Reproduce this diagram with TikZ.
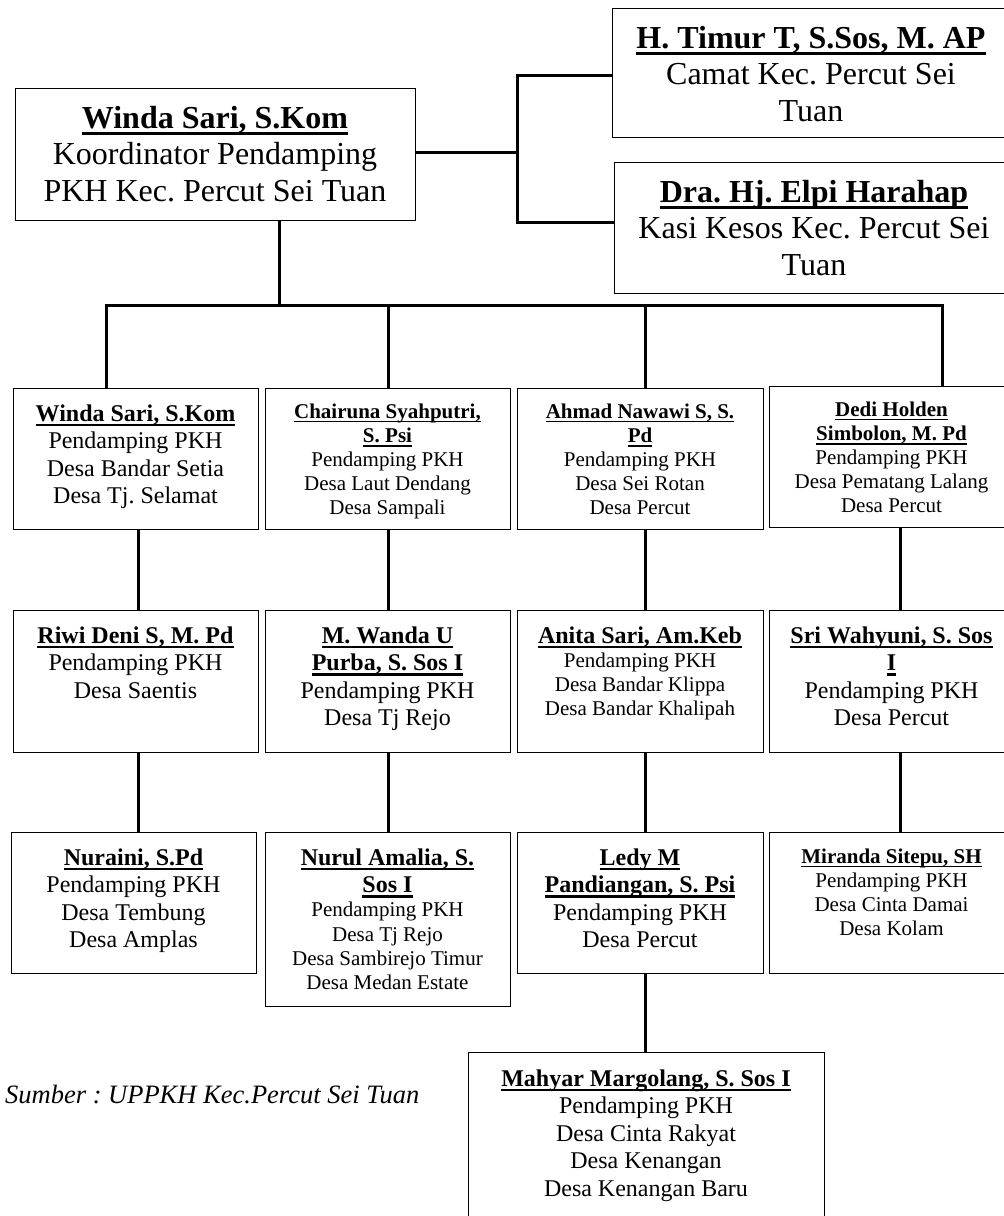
\documentclass[tikz,border=0pt]{standalone}
\usepackage{fontspec}
\setmainfont{Liberation Serif}
\frenchspacing
\newcommand\fA{\fontsize{32}{36.8}\selectfont}
\newcommand\fB{\fontsize{24}{27.6}\selectfont}
\newcommand\fC{\fontsize{21}{24.2}\selectfont}
\newcommand\ttl[1]{\leavevmode\setbox0\hbox{\bfseries #1}\rlap{\rule[-0.21em]{\wd0}{0.09em}}\box0}
\newcommand\tbox[2]{\parbox[t]{#1}{\centering\frenchspacing #2}}
\begin{document}
\begin{tikzpicture}[x=1pt,y=-1pt,
  bx/.style={draw, line width=1.4pt, inner sep=0pt, anchor=north west},
  txt/.style={inner sep=0pt, anchor=base},
  conn/.style={line width=3pt, line join=miter}]
\useasboundingbox (0,0) rectangle (1004,1216);
\clip (0,0) rectangle (1004,1216);
\fill[white] (0,0) rectangle (1004,1216);

% ---- boxes
\node[bx, minimum width=400pt, minimum height=132pt] (W0) at (15,88) {};
\node[bx, minimum width=398pt, minimum height=129pt] (HT) at (612,8) {};
\node[bx, minimum width=400pt, minimum height=131pt] (DR) at (614,162) {};

\node[bx, minimum width=245pt, minimum height=141pt] (R1a) at (13,388) {};
\node[bx, minimum width=245pt, minimum height=141pt] (R1b) at (265,388) {};
\node[bx, minimum width=246pt, minimum height=141pt] (R1c) at (517,388) {};
\node[bx, minimum width=245pt, minimum height=141pt] (R1d) at (769,386) {};

\node[bx, minimum width=245pt, minimum height=142pt] (R2a) at (13,610) {};
\node[bx, minimum width=245pt, minimum height=142pt] (R2b) at (265,610) {};
\node[bx, minimum width=246pt, minimum height=142pt] (R2c) at (517,610) {};
\node[bx, minimum width=245pt, minimum height=142pt] (R2d) at (769,610) {};

\node[bx, minimum width=245pt, minimum height=141pt] (R3a) at (11,832) {};
\node[bx, minimum width=245pt, minimum height=174pt] (R3b) at (265,832) {};
\node[bx, minimum width=246pt, minimum height=141pt] (R3c) at (517,832) {};
\node[bx, minimum width=245pt, minimum height=141pt] (R3d) at (769,832) {};

\node[bx, minimum width=356pt, minimum height=190pt] (MM) at (468,1052) {};

% ---- texts
\node[txt] (tW0) at (215,128) {\tbox{420pt}{\fA\ttl{Winda Sari, S.Kom}\\Koordinator Pendamping\\PKH Kec. Percut Sei Tuan}};
\node[txt] (tHT) at (811,48) {\tbox{420pt}{\fA\ttl{H. Timur T, S.Sos, M. AP}\\Camat Kec. Percut Sei\\Tuan}};
\node[txt] (tDR) at (814,202) {\tbox{420pt}{\fA\ttl{Dra. Hj. Elpi Harahap}\\Kasi Kesos Kec. Percut Sei\\Tuan}};

\node[txt] (t1a) at (135.5,421) {\tbox{300pt}{\fB\ttl{Winda Sari, S.Kom}\\Pendamping PKH\\Desa Bandar Setia\\Desa Tj. Selamat}};
\node[txt] (t1b) at (387.5,418) {\tbox{300pt}{\fC\ttl{Chairuna Syahputri,}\\\ttl{S. Psi}\\Pendamping PKH\\Desa Laut Dendang\\Desa Sampali}};
\node[txt] (t1c) at (640,418) {\tbox{300pt}{\fC\ttl{Ahmad Nawawi S, S.}\\\ttl{Pd}\\Pendamping PKH\\Desa Sei Rotan\\Desa Percut}};
\node[txt] (t1d) at (891.5,416) {\tbox{300pt}{\fC\ttl{Dedi Holden}\\\ttl{Simbolon, M. Pd}\\Pendamping PKH\\Desa Pematang Lalang\\Desa Percut}};

\node[txt] (t2a) at (135.5,643) {\tbox{300pt}{\fB\ttl{Riwi Deni S, M. Pd}\\Pendamping PKH\\Desa Saentis}};
\node[txt] (t2b) at (387.5,643) {\tbox{300pt}{\fB\ttl{M. Wanda U}\\\ttl{Purba, S. Sos I}\\Pendamping PKH\\Desa Tj Rejo}};
\node[txt] (t2c) at (640,643) {\tbox{300pt}{\fB\ttl{Anita Sari, Am.Keb}\\\fC Pendamping PKH\\Desa Bandar Klippa\\Desa Bandar Khalipah}};
\node[txt] (t2d) at (891.5,643) {\tbox{300pt}{\fB\ttl{Sri Wahyuni, S. Sos}\\\ttl{I}\\Pendamping PKH\\Desa Percut}};

\node[txt] (t3a) at (133.5,865) {\tbox{300pt}{\fB\ttl{Nuraini, S.Pd}\\Pendamping PKH\\Desa Tembung\\Desa Amplas}};
\node[txt] (t3b) at (387.5,865) {\tbox{300pt}{\fB\ttl{Nurul Amalia, S.}\\\ttl{Sos I}\\\fC Pendamping PKH\\Desa Tj Rejo\\Desa Sambirejo Timur\\Desa Medan Estate}};
\node[txt] (t3c) at (640,865) {\tbox{300pt}{\fB\ttl{Ledy M}\\\ttl{Pandiangan, S. Psi}\\Pendamping PKH\\Desa Percut}};
\node[txt] (t3d) at (891.5,863) {\tbox{300pt}{\fC\ttl{Miranda Sitepu, SH}\\Pendamping PKH\\Desa Cinta Damai\\Desa Kolam}};

\node[txt] (tMM) at (646,1086) {\tbox{340pt}{\fB\ttl{Mahyar Margolang, S. Sos I}\\Pendamping PKH\\Desa Cinta Rakyat\\Desa Kenangan\\Desa Kenangan Baru}};

\node[inner sep=0pt, anchor=base west] (src) at (5,1103) {\fontsize{26.5}{30}\selectfont\itshape Sumber : UPPKH Kec.Percut Sei Tuan};

% ---- connectors
\coordinate (j1) at (517,152);
\coordinate (jt) at (517,75);
\coordinate (jb) at (517,222);
\draw[conn] (W0.east |- j1) -- (j1);
\draw[conn] (HT.west |- jt) -| (jb) -- (DR.west |- jb);

\coordinate (b0) at (279,305);
\coordinate (d1) at (106,305);
\coordinate (d2) at (388,305);
\coordinate (d3) at (645,305);
\coordinate (d4) at (942,305);
\draw[conn] (W0.south -| b0) -- (b0);
\draw[conn] (d1 |- R1a.north) -- (d1) -- (d4) -- (d4 |- R1d.north);
\draw[conn] (d2) -- (d2 |- R1b.north);
\draw[conn] (d3) -- (d3 |- R1c.north);

\coordinate (c1) at (138,0);
\coordinate (c2) at (388,0);
\coordinate (c3) at (645,0);
\coordinate (c4) at (900,0);
\draw[conn] (R1a.south -| c1) -- (R2a.north -| c1);
\draw[conn] (R1b.south -| c2) -- (R2b.north -| c2);
\draw[conn] (R1c.south -| c3) -- (R2c.north -| c3);
\draw[conn] (R1d.south -| c4) -- (R2d.north -| c4);
\draw[conn] (R2a.south -| c1) -- (R3a.north -| c1);
\draw[conn] (R2b.south -| c2) -- (R3b.north -| c2);
\draw[conn] (R2c.south -| c3) -- (R3c.north -| c3);
\draw[conn] (R2d.south -| c4) -- (R3d.north -| c4);
\draw[conn] (R3c.south -| c3) -- (MM.north -| c3);
\end{tikzpicture}
\end{document}
